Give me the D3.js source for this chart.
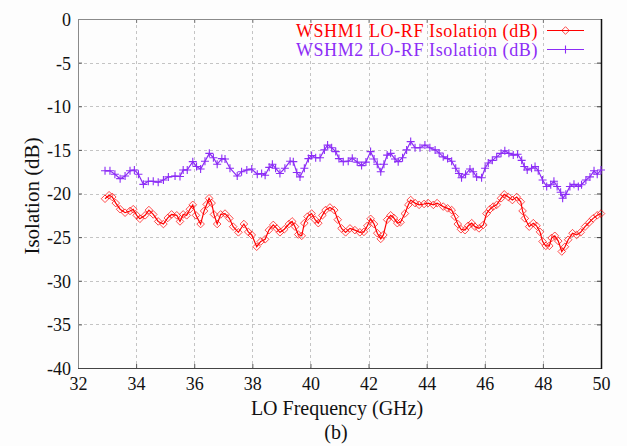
<!DOCTYPE html>
<html>
<head>
<meta charset="utf-8">
<script src="https://cdn.jsdelivr.net/npm/d3@7"></script>
<style>
  html, body { margin: 0; padding: 0; background: #fdfdfd; }
  svg { display: block; }
  svg text { font-family: "Liberation Serif", "Tinos", "Times New Roman", "DejaVu Serif", "Noto Serif", serif !important; }
</style>
</head>
<body>
<svg id="chart" width="627" height="446"></svg>
<script>
// ---------- DATA ----------
const seriesNames = ["WSHM1 LO-RF Isolation (dB)", "WSHM2 LO-RF Isolation (dB)"];

const freq1 = [32.93,33.07,33.18,33.30,33.45,33.62,33.79,33.90,34.02,34.13,34.31,34.44,34.59,34.76,34.94,35.09,35.22,35.40,35.51,35.62,35.74,35.85,35.95,36.06,36.22,36.34,36.43,36.51,36.60,36.68,36.79,36.91,37.06,37.21,37.34,37.52,37.71,37.86,37.98,38.15,38.29,38.44,38.57,38.72,38.84,38.95,39.10,39.26,39.37,39.47,39.58,39.70,39.79,39.90,40.04,40.16,40.27,40.41,40.52,40.67,40.82,40.94,41.07,41.21,41.36,41.53,41.70,41.84,41.96,42.07,42.19,42.30,42.42,42.51,42.64,42.76,42.87,42.99,43.10,43.25,43.37,43.45,43.60,43.74,43.91,44.05,44.23,44.36,44.57,44.72,44.86,44.97,45.07,45.18,45.32,45.43,45.55,45.66,45.80,45.95,46.06,46.18,46.29,46.41,46.56,46.67,46.81,46.95,47.10,47.24,47.30,47.38,47.53,47.67,47.78,47.90,47.99,48.10,48.22,48.30,48.41,48.53,48.65,48.76,48.87,49.02,49.16,49.30,49.45,49.60,49.73,49.87,50.00];
const wshm1 = [-20.6,-20.2,-20.4,-21.1,-21.8,-22.2,-22.0,-21.8,-22.5,-22.9,-22.5,-21.9,-22.4,-23.2,-23.5,-22.8,-22.4,-22.5,-23.2,-22.4,-22.5,-21.8,-21.3,-22.5,-23.5,-22.0,-21.25,-20.55,-21.1,-22.4,-23.5,-22.4,-22.3,-22.85,-23.8,-24.45,-23.5,-24.4,-24.75,-26.1,-25.5,-25.25,-24.2,-23.6,-24.0,-24.45,-24.1,-23.5,-23.2,-23.8,-24.7,-24.85,-23.4,-22.65,-22.3,-23.0,-23.4,-22.5,-21.9,-21.6,-21.9,-23.0,-24.0,-24.45,-24.0,-24.2,-24.45,-24.4,-23.7,-22.9,-23.5,-24.55,-25.2,-24.75,-23.0,-22.5,-22.8,-23.4,-23.3,-22.3,-21.3,-20.75,-21.1,-21.3,-21.2,-21.1,-21.3,-21.1,-21.5,-21.7,-21.9,-22.65,-23.5,-24.1,-24.2,-23.7,-23.4,-23.8,-24.0,-23.6,-22.3,-21.8,-21.5,-21.3,-20.55,-20.1,-20.4,-20.75,-20.4,-20.95,-22.0,-22.85,-23.8,-23.4,-23.7,-24.4,-25.5,-26.0,-26.0,-25.1,-24.85,-25.45,-26.65,-26.1,-25.3,-24.55,-24.75,-24.45,-23.8,-23.3,-22.85,-22.5,-22.3];

const freq2 = [32.93,33.10,33.27,33.45,33.62,33.79,33.94,34.08,34.25,34.42,34.59,34.76,34.94,35.11,35.34,35.51,35.62,35.76,35.95,36.08,36.22,36.37,36.52,36.66,36.79,36.95,37.06,37.23,37.48,37.63,37.81,37.98,38.17,38.32,38.44,38.58,38.69,38.80,38.95,39.12,39.30,39.41,39.53,39.64,39.79,39.93,40.04,40.18,40.33,40.48,40.59,40.73,40.87,40.98,41.13,41.30,41.44,41.61,41.76,41.91,42.07,42.19,42.30,42.42,42.53,42.64,42.76,42.91,43.02,43.17,43.31,43.45,43.60,43.77,43.94,44.11,44.29,44.43,44.57,44.72,44.86,45.00,45.11,45.20,45.34,45.49,45.60,45.72,45.89,46.01,46.12,46.26,46.41,46.56,46.69,46.83,46.98,47.13,47.27,47.36,47.46,47.61,47.73,47.84,47.99,48.13,48.27,48.38,48.49,48.61,48.68,48.79,48.93,49.07,49.22,49.33,49.48,49.62,49.76,49.87,50.00];
const wshm2 = [-17.4,-17.4,-17.8,-18.3,-18.0,-17.4,-17.3,-17.8,-18.95,-18.6,-18.6,-18.7,-18.45,-18.1,-18.0,-18.05,-17.3,-17.3,-16.35,-16.9,-17.2,-16.3,-15.4,-15.9,-16.65,-16.0,-16.05,-17.1,-18.0,-17.5,-17.3,-17.2,-17.8,-17.7,-17.9,-17.0,-16.65,-17.1,-17.7,-17.1,-16.3,-16.35,-17.6,-18.1,-17.1,-16.0,-15.65,-15.9,-15.9,-15.0,-14.45,-14.75,-15.2,-16.0,-16.35,-16.3,-15.95,-16.4,-16.8,-16.4,-15.2,-16.05,-16.65,-17.5,-16.65,-15.6,-15.4,-16.05,-16.35,-15.9,-15.0,-14.05,-14.75,-14.75,-14.45,-14.75,-15.0,-15.35,-15.8,-16.0,-16.3,-17.1,-17.7,-18.2,-17.8,-17.2,-17.5,-18.1,-18.2,-17.1,-16.5,-16.2,-15.8,-15.4,-15.1,-15.4,-15.6,-15.5,-16.2,-16.9,-17.3,-17.1,-16.9,-17.4,-18.45,-19.2,-19.0,-18.6,-19.2,-19.85,-20.55,-20.1,-19.2,-18.95,-19.2,-19.0,-18.45,-18.1,-17.4,-17.8,-17.3];

const xTicks = [32,34,36,38,40,42,44,46,48,50];
const yTicks = [0,-5,-10,-15,-20,-25,-30,-35,-40];
const xLabel = "LO Frequency (GHz)";
const yLabel = "Isolation (dB)";
const caption = "(b)";

// ---------- LAYOUT ----------
const FONT = "'Liberation Serif', Tinos, 'Times New Roman', 'DejaVu Serif', 'Noto Serif', serif";
const colors = ["#ff0000", "#8c2cf6"];
const pL = 78, pR = 601, pT = 19, pB = 368;
const svg = d3.select("#chart").attr("font-family", FONT);

const x = d3.scaleLinear().domain([32, 50]).range([pL, pR]);
const y = d3.scaleLinear().domain([-40, 0]).range([pB, pT]);

// grid
const grid = svg.append("g").attr("stroke", "#c4c4c4").attr("stroke-width", 1).attr("stroke-dasharray", "3,3");
xTicks.slice(1, -1).forEach(t => {
  grid.append("line").attr("x1", Math.round(x(t)) + 0.5).attr("x2", Math.round(x(t)) + 0.5)
    .attr("y1", pT).attr("y2", pB);
});
yTicks.slice(1, -1).forEach(t => {
  grid.append("line").attr("x1", pL).attr("x2", pR)
    .attr("y1", Math.round(y(t)) + 0.5).attr("y2", Math.round(y(t)) + 0.5);
});

// axes (ticks inward, labels)
const fmt = d => String(d);
const xAxis = d3.axisBottom(x).tickValues(xTicks).tickSize(-4).tickPadding(9).tickFormat(fmt);
const yAxis = d3.axisLeft(y).tickValues(yTicks).tickSize(-4).tickPadding(7).tickFormat(fmt);
const gx = svg.append("g").attr("transform", `translate(0,${pB})`).call(xAxis);
const gy = svg.append("g").attr("transform", `translate(${pL},0)`).call(yAxis);
[gx, gy].forEach(g => {
  g.attr("font-family", FONT).attr("font-size", 18);
  g.select(".domain").remove();
  g.selectAll(".tick line").attr("stroke", "#555");
  g.selectAll(".tick text").attr("fill", "#111");
});
gy.selectAll(".tick text").attr("dy", "0.36em");
// right-side and top ticks
const gr = svg.append("g").attr("transform", `translate(${pR},0)`)
  .call(d3.axisRight(y).tickValues(yTicks).tickSize(-4).tickFormat(""));
gr.select(".domain").remove();
gr.selectAll(".tick line").attr("stroke", "#333");
const gt = svg.append("g").attr("transform", `translate(0,${pT})`)
  .call(d3.axisTop(x).tickValues(xTicks).tickSize(-4).tickFormat(""));
gt.select(".domain").remove();
gt.selectAll(".tick line").attr("stroke", "#777");

// frame
svg.append("line").attr("x1", pL).attr("x2", pR).attr("y1", pT + 0.5).attr("y2", pT + 0.5).attr("stroke", "#8a8a8a");
svg.append("line").attr("x1", pL + 0.5).attr("x2", pL + 0.5).attr("y1", pT).attr("y2", pB).attr("stroke", "#8a8a8a");
svg.append("line").attr("x1", pL).attr("x2", pR + 1).attr("y1", pB + 0.5).attr("y2", pB + 0.5).attr("stroke", "#444");
svg.append("line").attr("x1", pR + 0.5).attr("x2", pR + 0.5).attr("y1", pT).attr("y2", pB + 1).attr("stroke", "#111").attr("stroke-width", 1.5);

// series
const line = d3.line().x(d => x(d[0])).y(d => y(d[1]));
const data1 = freq1.map((f, i) => [f, wshm1[i]]);
const data2 = freq2.map((f, i) => [f, wshm2[i]]);

function drawPlus(g, cx, cy, color) {
  g.append("path").attr("d", `M${cx - 4},${cy}H${cx + 4}M${cx},${cy - 4}V${cy + 4}`)
    .attr("stroke", color).attr("stroke-width", 1.1).attr("fill", "none");
}
function drawDiamond(g, cx, cy, color) {
  g.append("path").attr("d", `M${cx},${cy - 3.8}L${cx + 3.8},${cy}L${cx},${cy + 3.8}L${cx - 3.8},${cy}Z`)
    .attr("stroke", color).attr("stroke-width", 1).attr("fill", "none").attr("opacity", 0.7);
}

const s2 = svg.append("g");
s2.append("path").datum(data2).attr("d", line).attr("fill", "none").attr("stroke", colors[1]).attr("stroke-width", 1.2);
data2.forEach(d => drawPlus(s2, x(d[0]), y(d[1]), colors[1]));

const s1 = svg.append("g");
s1.append("path").datum(data1).attr("d", line).attr("fill", "none").attr("stroke", colors[0]).attr("stroke-width", 1.2);
data1.forEach(d => drawDiamond(s1, x(d[0]), y(d[1]), colors[0]));

// legend
const lg = svg.append("g");
const rows = [30.5, 49.5];
seriesNames.forEach((name, i) => {
  lg.append("text").attr("x", 538).attr("y", rows[i]).attr("dy", "0.35em")
    .attr("text-anchor", "end").attr("fill", colors[i]).attr("font-size", 18)
    .attr("letter-spacing", 0.6).text(name);
  lg.append("line").attr("x1", 547).attr("x2", 584).attr("y1", rows[i]).attr("y2", rows[i])
    .attr("stroke", colors[i]).attr("stroke-width", 1.2);
  if (i === 0) drawDiamond(lg, 565.5, rows[i], colors[i]);
  else drawPlus(lg, 565.5, rows[i], colors[i]);
});

// axis titles
svg.append("text").attr("x", 337).attr("y", 415).attr("text-anchor", "middle")
  .attr("fill", "#111").attr("font-size", 20).text(xLabel);
svg.append("text").attr("transform", `translate(39,196) rotate(-90)`)
  .attr("text-anchor", "middle").attr("fill", "#111").attr("font-size", 21).text(yLabel);
svg.append("text").attr("x", 336).attr("y", 439).attr("text-anchor", "middle")
  .attr("fill", "#111").attr("font-size", 20).text(caption);
</script>
</body>
</html>
